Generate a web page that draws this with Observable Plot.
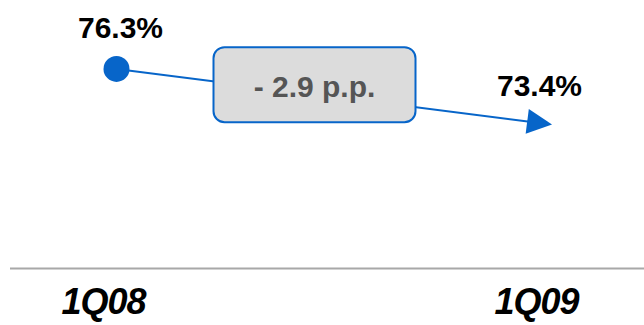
<!DOCTYPE html>
<html>
<head>
<meta charset="utf-8">
<script src="https://cdn.jsdelivr.net/npm/d3@7"></script>
<script src="https://cdn.jsdelivr.net/npm/@observablehq/plot@0.6"></script>
<style>
  html, body { margin: 0; padding: 0; background: #fff; }
  #chart svg { display: block; }
  #chart svg g[aria-label="x-axis tick label"] text { letter-spacing: -1px; }
</style>
</head>
<body>
<div id="chart"></div>
<script>
// Quarterly share, 1Q08 vs 1Q09
const periods = ["1Q08", "1Q09"];
const shares = [76.3, 73.4];
const yDomain = [65.5, 80];

const rows = periods.map((period, i) => ({i, period, value: shares[i]}));
const change = shares[1] - shares[0];
const changeLabel = `${change < 0 ? "-" : "+"} ${Math.abs(change).toFixed(1)} p.p.`;
const mid = [{i: (rows[0].i + rows[1].i) / 2, value: d3.mean(shares), label: changeLabel}];

const blue = "#0765c9";
const W = 644, H = 325;
const xOpts = {type: "linear", domain: [0, 1], range: [116, 535]};
const yOpts = {domain: yDomain, range: [268, 0]};

// angle of the connecting segment in screen space, for the arrowhead
const xs = Plot.scale({x: xOpts});
const ys = Plot.scale({y: yOpts});
const angle = Math.atan2(ys.apply(shares[1]) - ys.apply(shares[0]), xs.apply(1) - xs.apply(0)) * 180 / Math.PI;

// arrowhead pointing up, centred on its centroid
const arrowHead = {
  draw(ctx) {
    const h = 25, b = 25;
    ctx.moveTo(0, -2 * h / 3);
    ctx.lineTo(b / 2, h / 3);
    ctx.lineTo(-b / 2, h / 3);
    ctx.closePath();
  }
};

// rounded callout box
const calloutBox = {
  draw(ctx) {
    const w = 101, h = 37.5, r = 11;
    ctx.moveTo(-w + r, -h);
    ctx.lineTo(w - r, -h);
    ctx.arcTo(w, -h, w, -h + r, r);
    ctx.lineTo(w, h - r);
    ctx.arcTo(w, h, w - r, h, r);
    ctx.lineTo(-w + r, h);
    ctx.arcTo(-w, h, -w, h - r, r);
    ctx.lineTo(-w, -h + r);
    ctx.arcTo(-w, -h, -w + r, -h, r);
    ctx.closePath();
  }
};

const font = "'Liberation Sans', Arial, sans-serif";
const valueLabel = (d) => `${d.value.toFixed(1)}%`;
const valueStyle = {x: "i", y: "value", text: valueLabel, dx: 4, lineAnchor: "bottom",
  fontSize: 30, fontWeight: "bold", fill: "#000", fontFamily: font};
const tickStyle = {tickFormat: (i) => periods[i], tickSize: 0, tickPadding: 20,
  fontSize: 36, fontStyle: "italic", fontWeight: "bold", fill: "#000", fontFamily: font, label: null};

const chart = Plot.plot({
  width: W,
  height: H,
  marginTop: 0,
  marginBottom: 57,
  marginLeft: 10,
  marginRight: 0,
  style: {background: "#fff", fontFamily: font},
  x: xOpts,
  y: {...yOpts, axis: null},
  marks: [
    Plot.ruleY([yDomain[0]], {stroke: "#a8a8a8", strokeWidth: 2}),
    Plot.link([rows], {
      x1: (d) => d[0].i, y1: (d) => d[0].value,
      x2: (d) => d[1].i, y2: (d) => d[1].value,
      stroke: blue, strokeWidth: 2
    }),
    Plot.dot(mid, {
      x: "i", y: "value", symbol: calloutBox, r: 10,
      fill: "#dcdcdc", stroke: blue, strokeWidth: 2, dx: -11.5, dy: -11
    }),
    Plot.text(mid, {
      x: "i", y: "value", text: "label", dx: -11.5, dy: 1.5, lineAnchor: "bottom",
      fontSize: 30, fontWeight: "bold", fill: "#555", fontFamily: font
    }),
    Plot.dot(rows.filter((d) => d.i === 0), {x: "i", y: "value", r: 13, fill: blue}),
    Plot.dot(rows.filter((d) => d.i === 1), {
      x: "i", y: "value", symbol: arrowHead, r: 10, fill: blue, rotate: 90 + angle
    }),
    Plot.text(rows.filter((d) => d.i === 0), {...valueStyle, dy: -31}),
    Plot.text(rows.filter((d) => d.i === 1), {...valueStyle, dy: -26}),
    Plot.axisX([0], {...tickStyle, dx: -13}),
    Plot.axisX([1], {...tickStyle, dx: 1})
  ]
});

document.getElementById("chart").append(chart);
</script>
</body>
</html>
